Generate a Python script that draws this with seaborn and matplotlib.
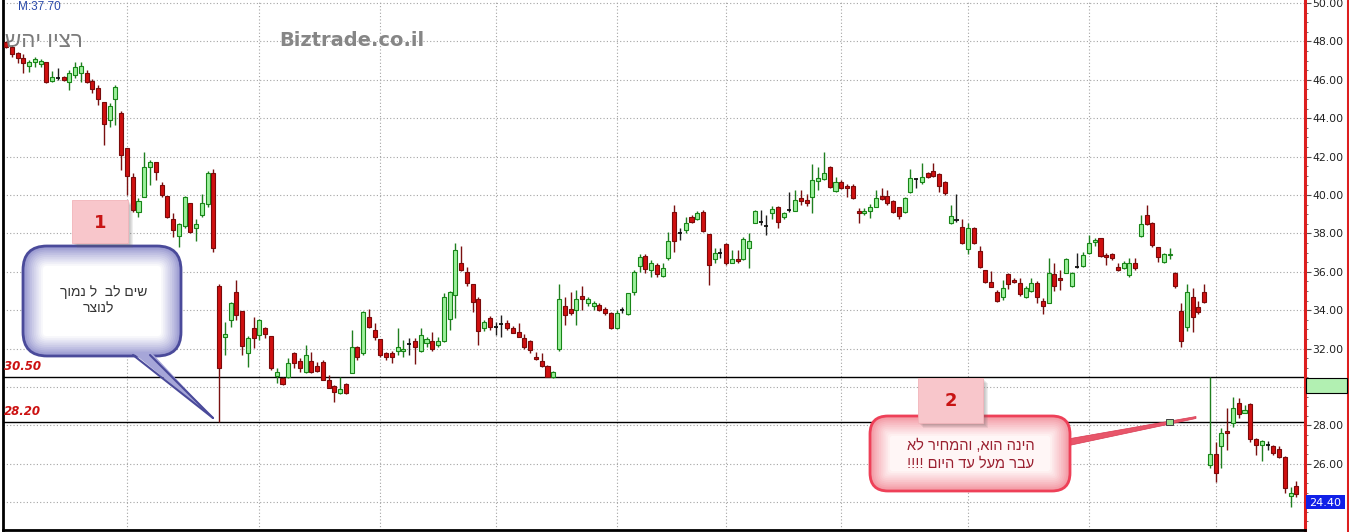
import numpy as np
import pandas as pd
import seaborn as sns
import matplotlib.pyplot as plt
from matplotlib.patches import FancyBboxPatch, Rectangle, Polygon
from matplotlib.lines import Line2D
from matplotlib.ticker import MultipleLocator, FuncFormatter
from matplotlib.colors import to_rgb

# daily candles
opens = [47.95, 47.7, 47.4, 47.15, 46.7, 46.95, 46.85, 46.95, 45.95, 46.1,
         46.15, 45.9, 46.25, 46.35, 46.35, 45.95, 45.55, 44.85, 43.9, 45.0,
         44.25, 42.45, 40.95, 39.1, 39.9, 41.45, 41.7, 40.5, 39.95, 38.75,
         37.85, 38.4, 39.6, 38.3, 38.95, 39.55, 41.15, 35.25, 32.6, 33.5,
         34.95, 33.95, 31.75, 33.05, 32.7, 33.05, 32.65, 30.55, 30.45, 30.5,
         31.75, 31.35, 30.8, 31.35, 31.1, 31.3, 30.35, 30.05, 29.7, 30.15,
         30.75, 32.1, 31.75, 33.65, 32.95, 32.5, 31.75, 31.75, 31.9, 31.9,
         32.25, 32.4, 31.9, 32.3, 32.4, 32.2, 32.4, 33.55, 34.8, 36.45,
         36.0, 35.35, 34.6, 33.05, 33.6, 33.15, 33.3, 33.35, 33.05, 32.85,
         32.55, 32.4, 31.55, 31.35, 31.1, 30.5, 32.0, 34.2, 34.05, 34.0,
         34.75, 34.4, 34.2, 34.25, 34.05, 33.85, 33.05, 34.0, 33.8, 34.95,
         36.3, 36.8, 36.1, 36.35, 35.8, 36.7, 39.1, 38.0, 38.2, 38.85,
         38.75, 39.1, 37.95, 36.65, 37.0, 37.45, 36.45, 36.65, 36.65, 37.25,
         38.55, 38.6, 38.4, 39.05, 39.4, 38.85, 39.2, 39.15, 39.85, 39.75,
         39.9, 40.75, 40.85, 41.45, 40.2, 40.7, 40.45, 40.45, 39.15, 39.05,
         39.15, 39.4, 39.95, 39.95, 39.7, 39.4, 39.1, 40.15, 40.85, 40.7,
         41.15, 41.25, 41.1, 40.7, 38.55, 38.7, 38.35, 37.2, 38.3, 37.1,
         36.1, 35.45, 34.95, 34.7, 35.9, 35.55, 35.4, 34.7, 35.0, 35.4,
         34.5, 34.4, 35.9, 35.7, 35.95, 35.25, 36.25, 36.3, 37.0, 37.55,
         37.75, 36.9, 36.95, 36.25, 36.2, 35.85, 36.45, 37.85, 38.95, 38.55,
         37.3, 36.5, 36.85, 35.95, 33.95, 33.15, 34.7, 34.15, 34.95, 25.95,
         26.5, 26.9, 27.7, 28.15, 29.15, 28.65, 29.1, 27.3, 27.0, 27.0,
         26.9, 26.75, 26.35, 24.3, 24.85]
highs = [48.05, 47.8, 47.45, 47.35, 47.05, 47.2, 47.1, 46.95, 46.45, 46.6,
         46.2, 46.5, 46.95, 46.95, 46.5, 46.05, 45.75, 44.85, 44.8, 45.75,
         44.4, 42.45, 41.15, 39.85, 42.25, 41.8, 41.7, 40.7, 39.95, 39.05,
         38.55, 39.95, 39.6, 38.75, 40.05, 41.25, 41.35, 35.35, 33.4, 34.45,
         35.55, 33.95, 32.65, 33.65, 33.55, 33.15, 32.65, 31.0, 30.5, 31.5,
         31.8, 31.5, 32.2, 31.8, 31.3, 31.4, 30.6, 30.1, 30.5, 30.2,
         32.95, 32.15, 33.95, 34.05, 33.35, 32.5, 31.8, 31.9, 33.05, 32.45,
         32.55, 32.55, 33.05, 32.6, 32.85, 32.6, 34.9, 35.0, 37.5, 37.35,
         36.25, 35.35, 34.7, 33.5, 33.7, 33.4, 33.75, 33.5, 33.2, 33.35,
         32.75, 32.45, 31.8, 31.75, 31.15, 30.85, 35.35, 34.7, 34.95, 35.05,
         35.25, 34.7, 34.5, 34.4, 34.15, 33.9, 34.0, 34.15, 34.9, 36.1,
         36.95, 36.95, 36.6, 36.45, 36.45, 38.05, 39.5, 38.3, 38.85, 38.95,
         39.15, 39.2, 37.95, 37.25, 37.25, 37.5, 37.15, 37.15, 37.8, 38.0,
         39.2, 39.2, 38.95, 39.45, 39.45, 39.1, 40.15, 40.25, 40.25, 40.05,
         41.6, 41.45, 42.25, 41.5, 40.95, 40.8, 40.6, 40.6, 39.3, 39.3,
         39.55, 40.25, 40.35, 40.25, 39.75, 39.4, 39.9, 41.35, 40.9, 41.65,
         41.2, 41.65, 41.15, 40.75, 39.5, 40.05, 38.75, 38.55, 38.35, 37.35,
         36.1, 36.05, 35.05, 35.55, 35.95, 35.7, 35.7, 35.25, 35.7, 35.5,
         34.65, 36.7, 36.45, 36.1, 36.7, 36.0, 37.0, 37.05, 37.9, 37.75,
         37.75, 37.0, 37.0, 36.45, 36.55, 36.7, 36.7, 38.95, 39.5, 38.6,
         37.3, 37.0, 37.25, 36.0, 34.4, 35.35, 35.15, 34.5, 35.35, 30.5,
         27.15, 27.85, 28.9, 29.5, 29.45, 29.05, 29.15, 27.35, 27.25, 27.2,
         27.0, 26.9, 26.4, 24.8, 25.1]
lows = [47.65, 47.2, 46.9, 46.35, 46.4, 46.65, 46.65, 45.85, 45.9, 46.0,
        45.95, 45.45, 46.1, 45.9, 45.85, 45.3, 44.7, 42.6, 43.55, 43.65,
        41.3, 40.0, 39.1, 38.85, 39.9, 40.5, 40.8, 39.9, 38.8, 37.8,
        37.3, 38.3, 38.0, 37.6, 38.85, 39.4, 37.05, 28.2, 31.65, 33.15,
        33.5, 31.65, 31.05, 32.05, 32.45, 32.55, 30.9, 30.2, 30.1, 30.45,
        31.0, 30.8, 30.75, 30.75, 30.8, 30.35, 29.95, 29.2, 29.65, 29.65,
        30.75, 31.4, 31.65, 33.05, 32.45, 31.55, 31.4, 31.25, 31.65, 31.55,
        31.65, 31.2, 31.8, 32.1, 31.9, 32.1, 32.35, 32.95, 33.6, 36.05,
        35.25, 33.9, 32.2, 32.9, 32.95, 32.7, 32.6, 32.95, 32.8, 32.6,
        32.0, 31.75, 31.4, 31.05, 30.5, 30.45, 31.9, 33.25, 33.75, 33.25,
        34.0, 34.2, 34.0, 33.95, 33.75, 33.0, 33.0, 33.85, 33.75, 34.8,
        36.0, 35.95, 35.75, 35.75, 35.75, 36.6, 37.05, 37.65, 38.0, 38.55,
        38.7, 38.05, 35.3, 36.45, 36.7, 36.35, 36.45, 36.45, 36.6, 36.2,
        38.55, 38.45, 37.9, 38.75, 38.3, 38.75, 39.1, 39.15, 39.5, 39.45,
        39.05, 40.25, 40.8, 40.35, 40.15, 40.3, 39.9, 39.8, 38.55, 38.95,
        38.8, 39.4, 39.75, 39.5, 39.05, 38.75, 39.05, 40.1, 40.35, 40.6,
        40.9, 40.95, 40.15, 40.0, 38.5, 38.6, 37.45, 36.95, 37.45, 36.2,
        35.4, 35.2, 34.45, 34.55, 35.1, 35.4, 34.75, 34.65, 34.95, 34.4,
        33.8, 34.35, 35.0, 35.05, 35.95, 35.2, 36.2, 36.25, 36.95, 37.35,
        36.75, 36.35, 36.6, 36.05, 36.15, 35.75, 36.1, 37.8, 38.45, 37.3,
        36.5, 36.45, 36.65, 35.15, 32.1, 32.9, 32.85, 33.8, 34.4, 25.8,
        25.05, 25.8, 26.7, 27.9, 28.4, 28.65, 27.15, 26.45, 26.15, 26.7,
        26.45, 26.3, 24.5, 23.75, 24.25]
closes = [47.72, 47.35, 47.15, 46.9, 46.95, 47.1, 47.0, 45.9, 46.15, 46.1,
          46.0, 46.35, 46.65, 46.7, 45.9, 45.5, 45.0, 43.7, 44.65, 45.65,
          42.1, 41.0, 39.2, 39.7, 41.45, 41.7, 41.2, 40.0, 38.85, 38.2,
          38.5, 39.9, 38.05, 38.5, 39.6, 41.15, 37.25, 31.0, 32.75, 34.4,
          33.75, 32.15, 32.55, 32.55, 33.5, 32.75, 31.0, 30.8, 30.15, 31.25,
          31.25, 31.0, 31.65, 30.8, 30.85, 30.35, 29.95, 29.75, 29.9, 29.7,
          32.1, 31.55, 33.9, 33.15, 32.6, 31.65, 31.55, 31.55, 32.1, 32.0,
          32.25, 32.1, 32.7, 32.5, 32.0, 32.4, 34.7, 34.95, 37.15, 36.1,
          35.4, 34.45, 32.9, 33.4, 33.15, 33.15, 33.3, 33.05, 32.8, 32.6,
          32.1, 31.95, 31.45, 31.1, 30.5, 30.8, 34.6, 33.75, 33.85, 34.6,
          34.6, 34.6, 34.4, 34.0, 33.85, 33.05, 33.85, 34.0, 34.9, 36.0,
          36.75, 36.15, 36.45, 35.9, 36.2, 37.6, 37.6, 38.0, 38.55, 38.6,
          39.05, 38.15, 36.35, 37.0, 37.0, 36.45, 36.65, 36.55, 37.7, 37.6,
          39.15, 38.6, 38.4, 39.25, 38.6, 39.05, 39.2, 39.75, 39.7, 39.6,
          40.8, 40.9, 41.15, 40.4, 40.7, 40.35, 40.35, 39.85, 39.05, 39.15,
          39.4, 39.85, 39.8, 39.6, 39.1, 38.9, 39.85, 40.9, 40.85, 40.95,
          40.95, 41.0, 40.45, 40.1, 38.9, 38.7, 37.5, 38.3, 37.5, 36.25,
          35.45, 35.2, 34.5, 35.15, 35.35, 35.45, 34.85, 35.15, 35.4, 34.7,
          34.2, 35.95, 35.25, 35.55, 36.65, 35.95, 36.25, 36.9, 37.5, 37.65,
          36.8, 36.75, 36.7, 36.1, 36.45, 36.45, 36.2, 38.5, 38.5, 37.4,
          36.75, 36.95, 36.95, 35.25, 32.4, 34.95, 33.65, 33.9, 34.45, 26.5,
          25.5, 27.6, 27.6, 28.9, 28.6, 28.8, 27.3, 27.0, 27.2, 27.0,
          26.55, 26.35, 24.75, 24.5, 24.4]

month_starts = [21, 44, 65, 85, 106, 125, 145, 167, 188, 210]
price_ticks = [24, 26, 28, 30, 32, 34, 36, 38, 40, 42, 44, 46, 48, 50]
levels = [30.50, 28.20]
last_price = 24.40
marker_text = "M:37.70"
stock_name = "רציו יהש"
site_name = "Biztrade.co.il"
note1 = ["שים לב  ל נמוך", "לנוצר"]
note2 = ["הינה הוא, והמחיר לא", "עבר מעל עד היום !!!!"]

W, H = 1349, 532


def rtl(s):
    # matplotlib lays glyphs out left to right, so hand it the visual order
    return s[::-1]


def mix(c1, c2, t):
    a, b = np.array(to_rgb(c1)), np.array(to_rgb(c2))
    return tuple(a + (b - a) * t)


sns.set_theme(style="white")
plt.rcParams['font.family'] = ['DejaVu Sans']
heb = ['Liberation Sans', 'DejaVu Sans']

df = pd.DataFrame({'open': opens, 'high': highs, 'low': lows, 'close': closes})
df['i'] = np.arange(len(df))

fig = plt.figure(figsize=(W / 100, H / 100), dpi=100)
fig.patch.set_facecolor('white')
ax = fig.add_axes([3 / W, 2 / H, 1302 / W, 530 / H])
ax.set_facecolor('white')
ax.set_xlim(-0.52, 225.5)
ax.set_ylim(22.55, 50.16)

# grid
ax.set_yticks(price_ticks)
ax.yaxis.set_minor_locator(MultipleLocator(0.5))
ax.set_xticks(month_starts)
ax.set_xticklabels([])
ax.grid(True, which='major', ls=(0, (1, 2)), color='#a4a4a4', lw=0.8, zorder=0)
ax.tick_params(axis='x', length=0)
ax.yaxis.tick_right()
# the lowest label sits under the last-price badge
ax.yaxis.set_major_formatter(FuncFormatter(
    lambda v, p: '' if abs(v - round(last_price)) < 0.01 else f"{v:.2f}"))
ax.tick_params(axis='y', which='major', length=4, width=0.8, color='#505050',
               pad=1.5, labelsize=7.8, labelcolor='#202020', right=True, left=False)
ax.tick_params(axis='y', which='minor', length=2, width=0.7, color='#707070', right=True, left=False)
ax.set_axisbelow(True)

for side in ['left', 'bottom']:
    ax.spines[side].set_color('black')
    ax.spines[side].set_linewidth(2)
ax.spines['top'].set_visible(False)
ax.spines['right'].set_color('#dd1f1f')
ax.spines['right'].set_linewidth(2.2)

# support levels
for lv in levels:
    ax.axhline(lv, color='black', lw=1, zorder=1)
    ax.annotate(f"{lv:.2f}", xy=(0, lv), xycoords=('axes fraction', 'data'),
                xytext=(1, 4), textcoords='offset pixels', ha='left', va='bottom',
                color='#cc1111', fontsize=8.5, fontweight='bold', fontstyle='italic')

# candles
bw = 0.7
up = df[df.close > df.open]
dn = df[df.close < df.open]
fl = df[df.close == df.open]
ax.vlines(up.i, up.low, up.high, color='#1f7f1f', lw=1, zorder=2)
ax.vlines(dn.i, dn.low, dn.high, color='#7a1010', lw=1, zorder=2)
ax.vlines(fl.i, fl.low, fl.high, color='#202020', lw=1, zorder=2)
ax.bar(up.i, np.maximum(up.close - up.open, 0.08), bottom=up.open, width=bw,
       color='#9cf09c', edgecolor='#178517', lw=0.8, zorder=3)
ax.bar(dn.i, np.maximum(dn.open - dn.close, 0.08), bottom=dn.close, width=bw,
       color='#d01010', edgecolor='#7a0a0a', lw=0.8, zorder=3)
ax.hlines(fl.close, fl.i - bw / 2, fl.i + bw / 2, color='#101010', lw=1.3, zorder=3)

# overlay in pixel units for notes
ov = fig.add_axes([0, 0, 1, 1], zorder=5)
ov.set_xlim(0, W)
ov.set_ylim(H, 0)
ov.axis('off')
ov.patch.set_alpha(0)

fig.add_artist(Line2D([1347.5 / W] * 2, [0, 1], color='#dd1f1f', lw=2.2))

# right axis badges
ov.add_patch(Rectangle((1306, 378), 41, 15, fc='#b2f0b2', ec='black', lw=0.8))
ov.add_patch(Rectangle((1306, 495), 39, 14, fc='#1020e8', ec='none'))
ov.text(1325.5, 502.5, f"{last_price:.2f}", color='white', fontsize=8,
        ha='center', va='center')

ov.text(18, 1, marker_text, color='#2848a8', fontsize=8.5, family=heb, ha='left', va='top')
ov.text(5, 47, rtl(stock_name), color='#7c7c7c', fontsize=16, family=heb,
        ha='left', va='baseline')
ov.text(279, 46, site_name, color='#868686', fontsize=14, fontweight='bold',
        ha='left', va='baseline')


def num_box(x0, y0, w, h, label):
    for k in range(4):
        ov.add_patch(Rectangle((x0 + 2 + k, y0 + 2 + k), w, h, fc='#606060',
                               alpha=0.10, ec='none'))
    ov.add_patch(Rectangle((x0, y0), w, h, fc='#f8c6cb', ec='#f2b4ba', lw=0.6))
    ov.text(x0 + w / 2, y0 + h / 2 + 1, label, color='#c81414', fontsize=13,
            fontweight='bold', ha='center', va='center')


def bubble(x0, y0, w, h, r, edge, shade, inner):
    n = 12
    for k in range(n):
        t = k / (n - 1)
        d = k * 1.8
        ov.add_patch(FancyBboxPatch((x0 + d, y0 + d), w - 2 * d, h - 2 * d,
                                    boxstyle=f"round,pad=0,rounding_size={max(r - d, 3)}",
                                    fc=mix(shade, inner, t ** 0.8),
                                    ec=edge if k == 0 else 'none',
                                    lw=2 if k == 0 else 0))


# note 1
bubble(23, 246, 158, 110, 24, '#4a4a9a', '#9090cc', '#ffffff')
ov.add_patch(Polygon([(132, 352), (151, 352), (213, 418)], fc='#a6a6d8', ec='none'))
ov.plot([133, 213], [355, 418], color='#4a4a9a', lw=1.5)
ov.plot([150, 213], [355, 418], color='#4a4a9a', lw=1.5)
ov.text(104, 292, rtl(note1[0]), family=heb, fontsize=10, color='#333333',
        ha='center', va='center')
ov.text(98, 308, rtl(note1[1]), family=heb, fontsize=10, color='#333333',
        ha='center', va='center')
num_box(72, 200, 56, 43, "1")

# note 2
ov.add_patch(Polygon([(1062, 440), (1062, 447), (1196, 418.5), (1196, 416.5)],
                     fc='#e8566a', ec='#d83a52', lw=0.5))
bubble(870, 416, 200, 75, 18, '#ee4058', '#f2909c', '#fff6f6')
ov.add_patch(Rectangle((1166, 419), 7, 6, fc='#9adf8e', ec='#404040', lw=0.7))
ov.text(971, 446, rtl(note2[0]), family=heb, fontsize=10.5, color='#9a2030',
        ha='center', va='center')
ov.text(971, 464, rtl(note2[1]), family=heb, fontsize=10.5, color='#9a2030',
        ha='center', va='center')
num_box(918, 378, 65, 45, "2")

fig.savefig('out.png', dpi=100)
